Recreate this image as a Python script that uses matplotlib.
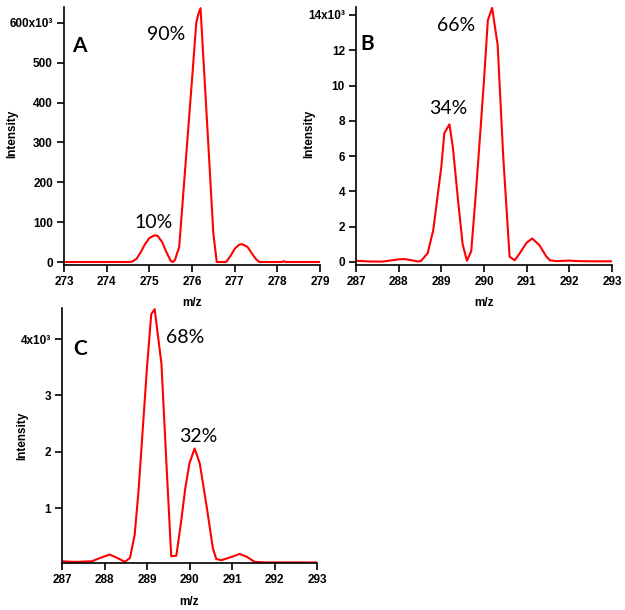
"""
Isotope patterns A, B, C - profile spectra redrawn
"""

import numpy as np
import matplotlib.pyplot as plt

plt.rcParams['font.family'] = ['Liberation Sans', 'DejaVu Sans']

# panel A (intensity in 10^3)
mz_a = [273.0, 274.5, 274.6, 274.7, 274.8, 274.9, 275.0, 275.1, 275.15, 275.2, 275.3,
        275.4, 275.5, 275.55, 275.6, 275.7, 275.8, 275.9, 276.0, 276.1, 276.15, 276.2,
        276.3, 276.4, 276.5, 276.58, 276.8, 276.9, 277.0, 277.1, 277.17, 277.3, 277.4,
        277.5, 277.58, 278.1, 278.15, 278.2, 279.0]
int_a = [0, 0, 1, 8, 25, 45, 60, 66, 67, 65, 50,
         25, 3, 0, 5, 38, 178, 318, 457, 600, 623, 637,
         450, 262, 72, 0, 0, 15, 33, 43, 45, 38, 22,
         7, 0, 0, 2, 0, 0]

# panel B
mz_b = [287.0, 287.3, 287.6, 287.8, 288.0, 288.13, 288.3, 288.45, 288.52, 288.68, 288.81,
        289.0, 289.07, 289.19, 289.27, 289.4, 289.5, 289.6, 289.7, 289.8, 289.9, 290.0,
        290.09, 290.19, 290.32, 290.45, 290.6, 290.72, 290.84, 291.0, 291.13, 291.3,
        291.45, 291.54, 291.7, 292.0, 292.2, 292.5, 293.0]
int_b = [0.07, 0.03, 0.02, 0.08, 0.15, 0.17, 0.1, 0.03, 0.05, 0.5, 1.8,
         5.4, 7.3, 7.8, 6.5, 3.3, 1.0, 0.07, 0.6, 3.6, 6.9, 10.3,
         13.7, 14.4, 12.3, 6.0, 0.3, 0.1, 0.5, 1.1, 1.33, 0.95,
         0.35, 0.1, 0.05, 0.08, 0.05, 0.04, 0.04]

# panel C
mz_c = [287.0, 287.3, 287.7, 287.9, 288.12, 288.3, 288.48, 288.6, 288.71, 288.8, 288.9,
        289.0, 289.1, 289.18, 289.34, 289.45, 289.57, 289.69, 289.8, 289.9, 290.0,
        290.12, 290.24, 290.4, 290.55, 290.63, 290.75, 291.0, 291.18, 291.35, 291.53,
        291.8, 292.0, 292.5, 293.0]
int_c = [0.06, 0.05, 0.06, 0.12, 0.18, 0.12, 0.05, 0.12, 0.53, 1.3, 2.4,
         3.5, 4.44, 4.53, 3.56, 1.9, 0.15, 0.16, 0.75, 1.35, 1.8,
         2.06, 1.8, 1.05, 0.29, 0.1, 0.08, 0.14, 0.19, 0.14, 0.05,
         0.04, 0.04, 0.04, 0.04]

yt_a = [0, 100, 200, 300, 400, 500, 600]
yl_a = ['0', '100', '200', '300', '400', '500', '600x10\u00b3']
yt_b = [0, 2, 4, 6, 8, 10, 12, 14]
yl_b = ['0', '2', '4', '6', '8', '10', '12', '14x10\u00b3']
yt_c = [1, 2, 3, 4]
yl_c = ['1', '2', '3', '4x10\u00b3']

W, H = 625, 610
fig = plt.figure(figsize=(W/100, H/100), dpi=100)
fs = 8.5

def panel(l, r, b, t):
    ax = fig.add_axes([l/W, 1 - b/H, (r - l)/W, (b - t)/H])
    ax.patch.set_alpha(0)
    return ax

def style(ax, mz, inten, xlim, ylim, yt, yl, lab, lpos, notes):
    ax.plot(mz, inten, color='#ff0000', lw=1.5)
    ax.set_xlim(xlim)
    ax.set_ylim(ylim)
    ax.set_xticks(np.arange(xlim[0], xlim[1] + 1))
    ax.set_yticks(yt)
    ax.set_yticklabels(yl)
    for s in ['top', 'right']:
        ax.spines[s].set_visible(False)
    for s in ['left', 'bottom']:
        ax.spines[s].set_linewidth(1.2)
    ax.tick_params(direction='out', length=5, width=1.2, labelsize=fs, pad=3)
    for t in ax.get_xticklabels() + ax.get_yticklabels():
        t.set_fontweight('bold')
    ax.set_xlabel('m/z', fontsize=fs, fontweight='bold')
    ax.set_ylabel('Intensity', fontsize=fs, fontweight='bold')
    ax.text(lpos[0], lpos[1], lab, fontsize=15, fontweight='bold', family='Lato',
            ha='center', va='center')
    for txt, x, y in notes:
        ax.text(x, y, txt, fontsize=14, family='Lato', ha='center', va='center')

ax_a = panel(64, 320, 265, 7)
style(ax_a, mz_a, int_a, (273, 279), (-7.5, 640), yt_a, yl_a, 'A', (273.35, 542),
      [('90%', 275.39, 570), ('10%', 275.11, 100)])
ax_a.yaxis.set_label_coords(-0.18, 0.51)
ax_a.xaxis.set_label_coords(0.5, -0.125)

ax_b = panel(356, 612, 265, 7)
style(ax_b, mz_b, int_b, (287, 293), (-0.17, 14.45), yt_b, yl_b, 'B', (287.26, 12.37),
      [('66%', 289.35, 13.38), ('34%', 289.17, 8.7)])
ax_b.yaxis.set_label_coords(-0.16, 0.51)
ax_b.xaxis.set_label_coords(0.5, -0.125)

ax_c = panel(62, 317, 563, 308)
style(ax_c, mz_c, int_c, (287, 293), (0.03, 4.55), yt_c, yl_c, 'C', (287.42, 3.83),
      [('68%', 289.89, 4.03), ('32%', 290.2, 2.28)])
ax_c.yaxis.set_label_coords(-0.133, 0.5)
ax_c.xaxis.set_label_coords(0.5, -0.13)

plt.savefig('out.png', dpi=100)
